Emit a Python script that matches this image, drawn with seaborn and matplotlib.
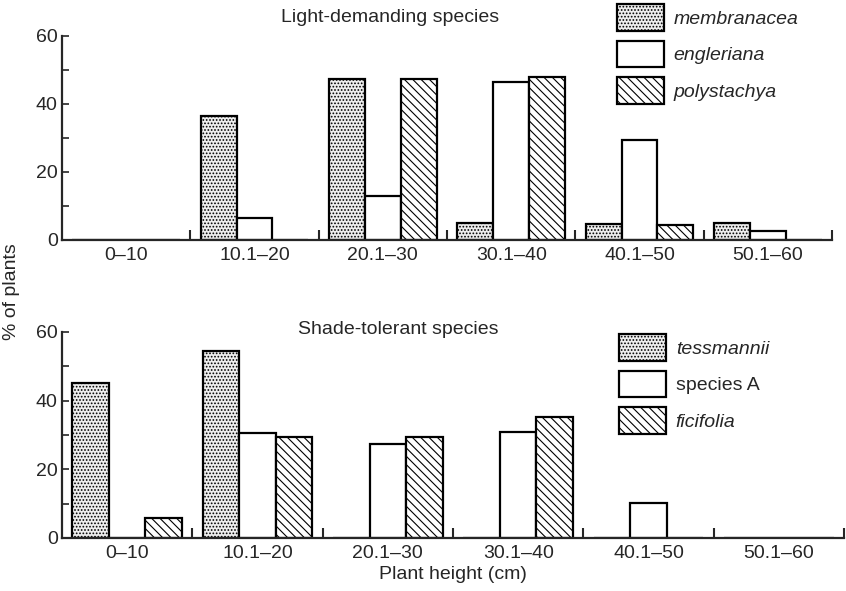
import pandas as pd
import matplotlib
matplotlib.use("Agg")
from matplotlib import pyplot as plt
from matplotlib.patches import Patch
import seaborn as sns

heights = ['0\u201310', '10.1\u201320', '20.1\u201330', '30.1\u201340', '40.1\u201350', '50.1\u201360']

# light-demanding species (% of plants)
light_names = ['membranacea', 'engleriana', 'polystachya']
membranacea = [0, 36.5, 47.5, 5, 4.7, 5]
engleriana = [0, 6.4, 13, 46.5, 29.5, 2.7]
polystachya = [0, 0, 47.5, 47.8, 4.3, 0]

# shade-tolerant species (% of plants)
shade_names = ['tessmannii', 'species A', 'ficifolia']
tessmannii = [45.2, 54.6, 0, 0, 0, 0]
species_a = [0, 30.7, 27.4, 30.9, 10.2, 0]
ficifolia = [5.9, 29.3, 29.3, 35.3, 0, 0]

sns.set_style('ticks')
plt.rcParams['font.family'] = ['Liberation Sans', 'DejaVu Sans']
plt.rcParams['font.size'] = 14
plt.rcParams['hatch.linewidth'] = 0.8

styles = [dict(facecolor='#eeeeee', hatch='.....'),
          dict(facecolor='white', hatch=''),
          dict(facecolor='white', hatch='\\\\\\\\')]


def long_df(names, series):
    rows = []
    for name, vals in zip(names, series):
        for h, v in zip(heights, vals):
            rows.append({'height': h, 'species': name, 'pct': v})
    return pd.DataFrame(rows)


def panel(ax, names, series, title, title_xy, leg_xy, italic):
    df = long_df(names, series)
    sns.barplot(data=df, x='height', y='pct', hue='species', hue_order=names,
                order=heights, width=0.84, ax=ax, legend=False, saturation=1,
                edgecolor='black', linewidth=1.6)
    for cont, st in zip(ax.containers, styles):
        for bar in cont:
            bar.set_facecolor(st['facecolor'])
            bar.set_hatch(st['hatch'])
            bar.set_edgecolor('black')
    ax.set_xlim(-0.5, 5.5)
    ax.set_ylim(0, 60)
    ax.set_yticks([0, 20, 40, 60])
    ax.set_yticks([10, 30, 50], minor=True)
    ax.set_xticks(range(6))
    ax.set_xticklabels(heights)
    ax.set_xticks([x + 0.5 for x in range(6)], minor=True)
    ax.tick_params(axis='x', which='major', length=0, pad=5)
    ax.tick_params(axis='x', which='minor', direction='in', length=7, width=1.5)
    ax.tick_params(axis='y', which='both', direction='in', length=5, width=1.2, pad=3)
    ax.set_xlabel('')
    ax.set_ylabel('')
    for s in ['top', 'right']:
        ax.spines[s].set_visible(False)
    for s in ['left', 'bottom']:
        ax.spines[s].set_linewidth(1.6)
    fig.text(title_xy[0] / 846, 1 - title_xy[1] / 591, title, ha='center', va='center')
    handles = [Patch(facecolor=st['facecolor'], hatch=st['hatch'], edgecolor='black',
                     linewidth=1.6, label=n) for st, n in zip(styles, names)]
    leg = ax.legend(handles=handles, loc='upper left',
                    bbox_to_anchor=(leg_xy[0] / 846, 1 - leg_xy[1] / 591),
                    bbox_transform=fig.transFigure, frameon=False, borderpad=0,
                    borderaxespad=0, handlelength=2.42, handleheight=1.75,
                    labelspacing=0.5, handletextpad=0.5)
    for t, it in zip(leg.get_texts(), italic):
        if it:
            t.set_style('italic')


fig = plt.figure(figsize=(8.46, 5.91), dpi=100)
ax1 = fig.add_axes([62 / 846, 1 - 240 / 591, 770 / 846, 204 / 591])
ax2 = fig.add_axes([62 / 846, 1 - 538 / 591, 782 / 846, 206 / 591])

panel(ax1, light_names, [membranacea, engleriana, polystachya],
      'Light-demanding species', (390, 17), (617, 4), [True, True, True])
panel(ax2, shade_names, [tessmannii, species_a, ficifolia],
      'Shade-tolerant species', (398, 330), (619, 334), [True, False, True])

ax2.set_xlabel('Plant height (cm)', labelpad=3)
fig.text(12 / 846, 1 - 292 / 591, '% of plants', rotation=90, ha='center', va='center')

fig.savefig('out.png', dpi=100)
